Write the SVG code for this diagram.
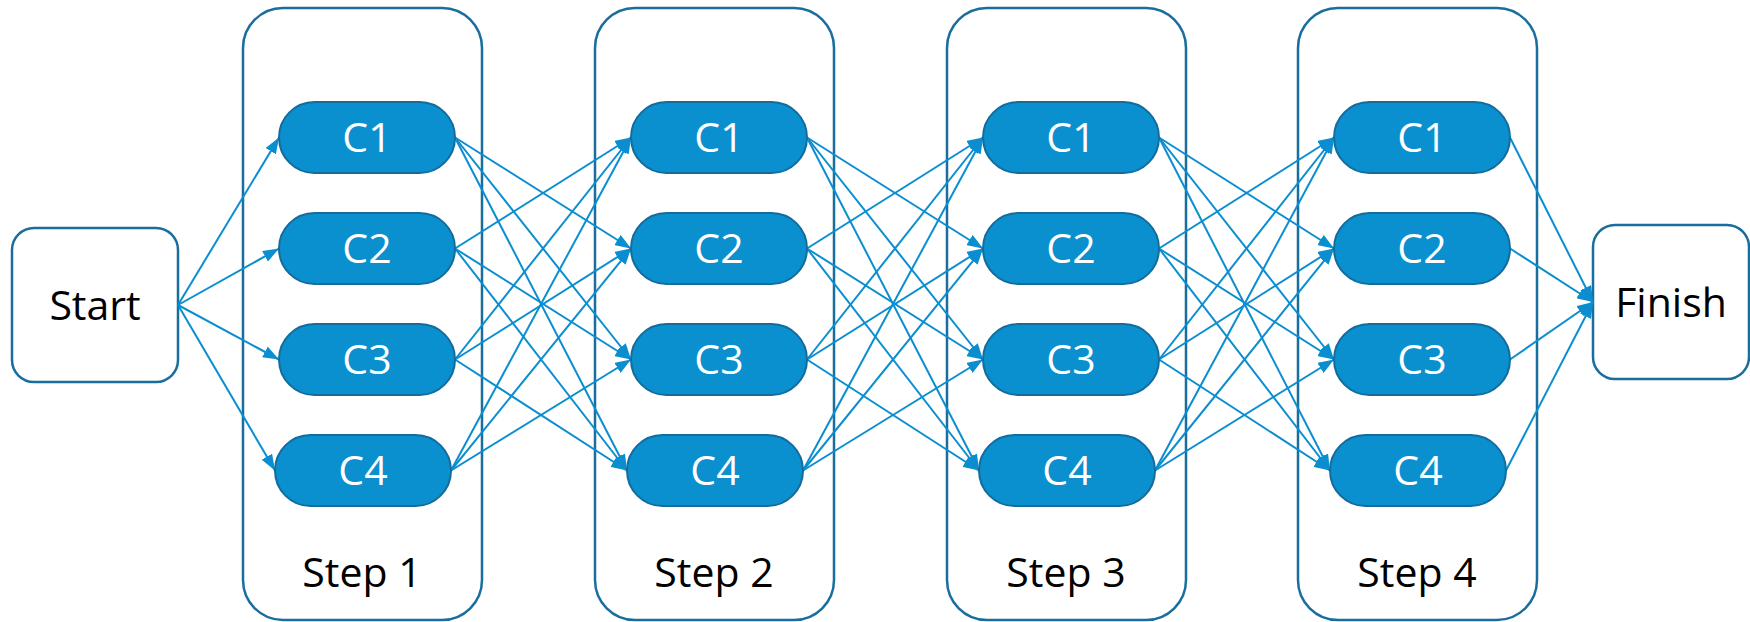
<svg xmlns="http://www.w3.org/2000/svg" width="1750" height="622" viewBox="0 0 1750 622">
<style>
.box{fill:#fff;stroke:#1A6E9E;stroke-width:2.5}
.c{fill:#0A8FCF;stroke:#136C9C;stroke-width:2}
.e{stroke:#0B8ED0;stroke-width:2;fill:none;marker-end:url(#ah)}
.t{font-family:"Open Sans","DejaVu Sans",sans-serif;font-size:41px;text-anchor:middle;fill:#000}
.w{fill:#fff}
</style>
<defs>
<marker id="ah" viewBox="0 0 16 12" refX="16" refY="6" markerWidth="16" markerHeight="12" markerUnits="userSpaceOnUse" orient="auto">
<path d="M0,0 L16,6 L0,12 z" fill="#0B8ED0"/>
</marker>
</defs>
<g id="start"><rect class="box" x="12" y="228" width="166" height="154" rx="22"/><text class="t" x="95" y="320">Start</text></g>
<g id="finish"><rect class="box" x="1593" y="225" width="156" height="154" rx="22"/><text class="t" x="1671" y="317">Finish</text></g>
<g id="step1"><rect class="box" x="243" y="8" width="239" height="612" rx="40"/><text class="t" x="362" y="587">Step 1</text></g>
<g id="step2"><rect class="box" x="595" y="8" width="239" height="612" rx="40"/><text class="t" x="714" y="587">Step 2</text></g>
<g id="step3"><rect class="box" x="947" y="8" width="239" height="612" rx="40"/><text class="t" x="1066" y="587">Step 3</text></g>
<g id="step4"><rect class="box" x="1298" y="8" width="239" height="612" rx="40"/><text class="t" x="1417" y="587">Step 4</text></g>
<g id="connectors">
<line class="e" x1="178" y1="305" x2="279" y2="137.5"/>
<line class="e" x1="178" y1="305" x2="279" y2="248.5"/>
<line class="e" x1="178" y1="305" x2="279" y2="359.5"/>
<line class="e" x1="178" y1="305" x2="275" y2="470.5"/>
<line class="e" x1="455" y1="137.5" x2="631" y2="248.5"/>
<line class="e" x1="455" y1="137.5" x2="631" y2="359.5"/>
<line class="e" x1="455" y1="137.5" x2="627" y2="470.5"/>
<line class="e" x1="455" y1="248.5" x2="631" y2="137.5"/>
<line class="e" x1="455" y1="248.5" x2="631" y2="359.5"/>
<line class="e" x1="455" y1="248.5" x2="627" y2="470.5"/>
<line class="e" x1="455" y1="359.5" x2="631" y2="137.5"/>
<line class="e" x1="455" y1="359.5" x2="631" y2="248.5"/>
<line class="e" x1="455" y1="359.5" x2="627" y2="470.5"/>
<line class="e" x1="451" y1="470.5" x2="631" y2="137.5"/>
<line class="e" x1="451" y1="470.5" x2="631" y2="248.5"/>
<line class="e" x1="451" y1="470.5" x2="631" y2="359.5"/>
<line class="e" x1="807" y1="137.5" x2="983" y2="248.5"/>
<line class="e" x1="807" y1="137.5" x2="983" y2="359.5"/>
<line class="e" x1="807" y1="137.5" x2="979" y2="470.5"/>
<line class="e" x1="807" y1="248.5" x2="983" y2="137.5"/>
<line class="e" x1="807" y1="248.5" x2="983" y2="359.5"/>
<line class="e" x1="807" y1="248.5" x2="979" y2="470.5"/>
<line class="e" x1="807" y1="359.5" x2="983" y2="137.5"/>
<line class="e" x1="807" y1="359.5" x2="983" y2="248.5"/>
<line class="e" x1="807" y1="359.5" x2="979" y2="470.5"/>
<line class="e" x1="803" y1="470.5" x2="983" y2="137.5"/>
<line class="e" x1="803" y1="470.5" x2="983" y2="248.5"/>
<line class="e" x1="803" y1="470.5" x2="983" y2="359.5"/>
<line class="e" x1="1159" y1="137.5" x2="1334" y2="248.5"/>
<line class="e" x1="1159" y1="137.5" x2="1334" y2="359.5"/>
<line class="e" x1="1159" y1="137.5" x2="1330" y2="470.5"/>
<line class="e" x1="1159" y1="248.5" x2="1334" y2="137.5"/>
<line class="e" x1="1159" y1="248.5" x2="1334" y2="359.5"/>
<line class="e" x1="1159" y1="248.5" x2="1330" y2="470.5"/>
<line class="e" x1="1159" y1="359.5" x2="1334" y2="137.5"/>
<line class="e" x1="1159" y1="359.5" x2="1334" y2="248.5"/>
<line class="e" x1="1159" y1="359.5" x2="1330" y2="470.5"/>
<line class="e" x1="1155" y1="470.5" x2="1334" y2="137.5"/>
<line class="e" x1="1155" y1="470.5" x2="1334" y2="248.5"/>
<line class="e" x1="1155" y1="470.5" x2="1334" y2="359.5"/>
<line class="e" x1="1510" y1="137.5" x2="1593" y2="302"/>
<line class="e" x1="1510" y1="248.5" x2="1593" y2="302"/>
<line class="e" x1="1510" y1="359.5" x2="1593" y2="302"/>
<line class="e" x1="1506" y1="470.5" x2="1593" y2="302"/>
</g>
<g id="s1c1"><rect class="c" x="279" y="102" width="176" height="71" rx="35.5"/><text class="t w" x="367" y="152">C1</text></g>
<g id="s1c2"><rect class="c" x="279" y="213" width="176" height="71" rx="35.5"/><text class="t w" x="367" y="263">C2</text></g>
<g id="s1c3"><rect class="c" x="279" y="324" width="176" height="71" rx="35.5"/><text class="t w" x="367" y="374">C3</text></g>
<g id="s1c4"><rect class="c" x="275" y="435" width="176" height="71" rx="35.5"/><text class="t w" x="363" y="485">C4</text></g>
<g id="s2c1"><rect class="c" x="631" y="102" width="176" height="71" rx="35.5"/><text class="t w" x="719" y="152">C1</text></g>
<g id="s2c2"><rect class="c" x="631" y="213" width="176" height="71" rx="35.5"/><text class="t w" x="719" y="263">C2</text></g>
<g id="s2c3"><rect class="c" x="631" y="324" width="176" height="71" rx="35.5"/><text class="t w" x="719" y="374">C3</text></g>
<g id="s2c4"><rect class="c" x="627" y="435" width="176" height="71" rx="35.5"/><text class="t w" x="715" y="485">C4</text></g>
<g id="s3c1"><rect class="c" x="983" y="102" width="176" height="71" rx="35.5"/><text class="t w" x="1071" y="152">C1</text></g>
<g id="s3c2"><rect class="c" x="983" y="213" width="176" height="71" rx="35.5"/><text class="t w" x="1071" y="263">C2</text></g>
<g id="s3c3"><rect class="c" x="983" y="324" width="176" height="71" rx="35.5"/><text class="t w" x="1071" y="374">C3</text></g>
<g id="s3c4"><rect class="c" x="979" y="435" width="176" height="71" rx="35.5"/><text class="t w" x="1067" y="485">C4</text></g>
<g id="s4c1"><rect class="c" x="1334" y="102" width="176" height="71" rx="35.5"/><text class="t w" x="1422" y="152">C1</text></g>
<g id="s4c2"><rect class="c" x="1334" y="213" width="176" height="71" rx="35.5"/><text class="t w" x="1422" y="263">C2</text></g>
<g id="s4c3"><rect class="c" x="1334" y="324" width="176" height="71" rx="35.5"/><text class="t w" x="1422" y="374">C3</text></g>
<g id="s4c4"><rect class="c" x="1330" y="435" width="176" height="71" rx="35.5"/><text class="t w" x="1418" y="485">C4</text></g>
</svg>
